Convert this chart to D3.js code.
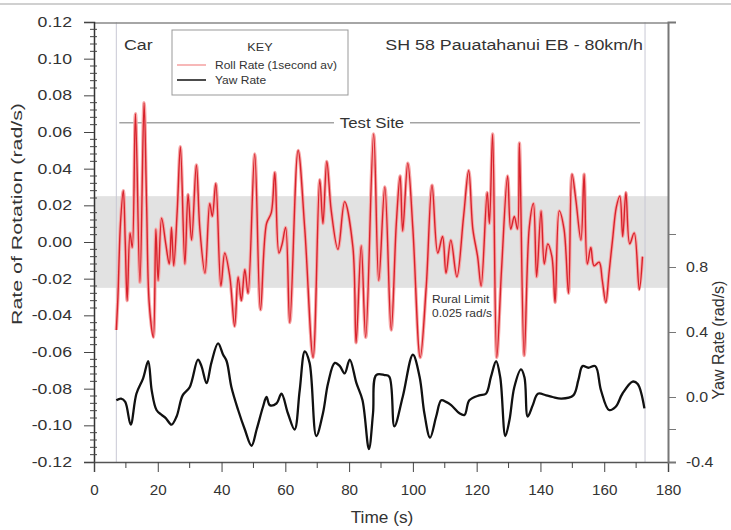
<!DOCTYPE html>
<html><head><meta charset="utf-8">
<script src="https://cdn.jsdelivr.net/npm/d3@7"></script>
<style>
html,body{margin:0;padding:0;background:#fff;}
svg text{font-family:"Liberation Sans",Arial,sans-serif;fill:#333;}
</style></head>
<body><svg id="c" width="731" height="530"></svg>
<script>
// ---- data ----
const rollT = [7.0,7.5,8.3,9.2,9.8,10.4,11.3,12.0,13.0,14.4,15.7,16.5,17.3,18.6,19.4,20.1,21.2,22.5,23.6,24.3,25.0,26.1,27.1,28.5,29.5,30.6,32.1,33.2,34.8,36.3,37.1,38.2,39.8,41.0,42.6,44.1,45.2,46.2,47.3,48.3,50.4,52.2,54.1,55.6,56.7,58.0,59.0,60.1,61.4,64.0,66.1,68.7,70.8,71.8,73.0,74.4,76.5,78.6,81.2,82.2,83.8,85.2,87.7,89.3,91.2,93.2,94.8,96.0,96.8,98.4,100.0,102.3,104.2,106.0,107.8,109.3,110.4,111.9,113.8,115.9,117.5,118.8,120.3,121.4,123.3,124.0,125.0,126.3,127.8,129.7,130.7,131.8,132.8,133.4,134.9,136.5,137.8,138.8,140.2,141.2,142.3,143.6,144.6,145.9,147.4,148.8,149.9,151.1,152.7,153.7,154.7,155.8,156.8,158.4,159.4,160.5,161.5,162.6,163.8,164.9,165.8,166.8,168.0,169.4,171.0,172.0];
const rollV = [-0.048,-0.030,0.010,0.028,0.000,-0.032,0.005,-0.003,0.070,-0.022,0.076,0.020,-0.033,-0.052,0.007,-0.021,0.013,-0.001,-0.012,0.008,-0.013,0.017,0.052,-0.012,0.026,0.001,0.042,0.007,-0.017,0.021,0.014,0.032,-0.024,-0.006,-0.019,-0.046,-0.019,-0.032,-0.015,-0.028,0.048,-0.037,0.010,0.016,0.038,-0.006,-0.001,0.008,-0.044,0.050,0.007,-0.063,0.034,0.010,0.044,0.017,-0.004,0.022,-0.003,-0.055,-0.002,-0.052,0.059,-0.021,0.030,-0.048,0.010,0.036,0.006,0.043,0.007,-0.063,-0.024,0.031,-0.006,0.003,-0.017,0.001,-0.019,0.014,0.039,0.007,-0.008,-0.024,0.027,0.010,0.059,-0.063,-0.015,0.036,0.007,0.014,0.007,0.054,-0.062,0.008,0.021,-0.019,0.017,-0.012,-0.001,-0.008,-0.033,0.017,0.007,-0.028,0.037,0.023,0.001,0.037,-0.012,-0.003,-0.013,-0.011,-0.021,-0.033,-0.017,0.001,0.019,0.025,0.003,0.027,-0.001,0.005,-0.026,-0.008];
const yawT = [7.0,8.5,9.8,11.5,13.3,15.4,17.0,18.1,19.6,21.2,22.5,24.3,25.9,27.8,30.0,32.6,33.7,35.3,36.8,38.9,40.5,41.6,43.1,45.2,47.3,49.4,51.0,53.0,54.1,55.1,57.2,58.8,60.8,62.9,64.5,66.1,67.6,69.7,71.8,73.4,75.5,77.1,78.6,80.2,82.3,84.2,86.2,87.5,88.5,91.1,92.6,94.2,96.8,100.0,102.1,103.6,105.4,107.3,108.9,110.4,112.0,114.6,116.2,117.7,120.8,122.9,124.5,126.1,127.4,129.0,130.3,131.8,133.9,135.0,136.0,137.6,139.2,141.8,143.8,146.6,150.3,151.9,153.2,155.0,157.2,159.0,161.5,163.6,165.7,168.9,170.5,172.6];
const yawV = [-0.02,-0.01,-0.03,-0.17,0.02,0.115,0.22,0.04,-0.08,-0.11,-0.13,-0.17,-0.12,0.01,0.06,0.23,0.19,0.085,0.21,0.33,0.26,0.22,0.06,-0.08,-0.20,-0.30,-0.20,-0.06,0.0,-0.05,-0.04,0.02,-0.10,-0.20,0.04,0.28,0.21,-0.24,-0.10,0.085,0.21,0.19,0.145,0.23,0.085,-0.02,-0.32,-0.10,0.135,0.135,0.125,-0.18,0.0,0.26,0.125,-0.10,-0.25,-0.12,-0.02,-0.03,-0.05,-0.10,-0.11,-0.02,0.01,0.02,0.125,0.22,0.12,-0.24,-0.14,0.06,0.17,0.12,-0.12,-0.05,0.02,0.01,0.0,-0.01,0.01,0.105,0.19,0.18,0.19,0.04,-0.08,-0.06,0.02,0.095,0.08,-0.07];
const leftTicks = [-0.12,-0.10,-0.08,-0.06,-0.04,-0.02,0.00,0.02,0.04,0.06,0.08,0.10,0.12];
const bottomTicks = [0,20,40,60,80,100,120,140,160,180];
const rightTicks = [-0.4,0.0,0.4,0.8];
const rightMinor = [-0.2,1.0];
const ruralLimit = 0.025;
const testSite = [7.0, 172.8];
const testSiteLevel = 0.065;
const legendItems = ["Roll Rate (1second av)","Yaw Rate"];
const titleText = "SH 58 Pauatahanui EB - 80km/h";

// ---- layout ----
const svg = d3.select("#c");
const L=94, R=668, T=22, B=462;
const SX = 1.2; // horizontal text stretch of the original image
const x = d3.scaleLinear().domain([0,180]).range([L,R]);
const y = d3.scaleLinear().domain([-0.12,0.12]).range([B,T]);
const y2 = d3.scaleLinear().domain([-0.4,-0.4+(B-T)/162.5]).range([B,T]);

function txt(px,py,s,size,anchor,sx){
  return svg.append("text").attr("transform",`translate(${px},${py}) scale(${sx||SX},1)`)
    .attr("text-anchor",anchor||"start").attr("font-size",size).text(s);
}
function stretchAxis(g,size,sx){
  g.selectAll(".tick text").each(function(){
    const t=d3.select(this);
    const tx=+t.attr("x")||0, ty=+t.attr("y")||0;
    t.attr("x",null).attr("y",null).attr("transform",`translate(${tx},${ty}) scale(${sx},1)`)
     .attr("font-size",size).style("fill","#333").attr("font-family","Liberation Sans, Arial, sans-serif");
  });
}

// page top rule
svg.append("line").attr("x1",0).attr("x2",731).attr("y1",4).attr("y2",4).attr("stroke","#d0d0d0").attr("stroke-width",2);

// rural band
svg.append("rect").attr("x",L).attr("width",R-L).attr("y",y(ruralLimit)).attr("height",y(-ruralLimit)-y(ruralLimit)).attr("fill","#e2e2e2");

// test site verticals
testSite.forEach(t=>svg.append("line").attr("x1",x(t)).attr("x2",x(t)).attr("y1",T).attr("y2",B).attr("stroke","#c8c8d4").attr("stroke-width",1));

// frame top
svg.append("line").attr("x1",L).attr("x2",R).attr("y1",T+1).attr("y2",T+1).attr("stroke","#888").attr("stroke-width",1.5);

// test site line
const tsY = y(testSiteLevel);
svg.append("line").attr("x1",x(testSite[0])+3).attr("x2",334).attr("y1",tsY).attr("y2",tsY).attr("stroke","#777");
svg.append("line").attr("x1",410).attr("x2",x(testSite[1])-5).attr("y1",tsY).attr("y2",tsY).attr("stroke","#777");
txt(372,tsY+5,"Test Site",14,"middle");

// lines
const rollLine = d3.line().x((d,i)=>x(rollT[i])).y((d,i)=>y(rollV[i])).curve(d3.curveCatmullRom.alpha(0.5));
const yawLine = d3.line().x((d,i)=>x(yawT[i])).y((d,i)=>y2(yawV[i])).curve(d3.curveCatmullRom.alpha(0.5));
svg.append("path").attr("d",rollLine(rollT)).attr("fill","none").attr("stroke","#f6a8a8").attr("stroke-width",3.4).attr("stroke-linejoin","round");
svg.append("path").attr("d",rollLine(rollT)).attr("fill","none").attr("stroke","#d8222c").attr("stroke-width",1.4).attr("stroke-linejoin","round");
svg.append("path").attr("d",yawLine(yawT)).attr("fill","none").attr("stroke","#111").attr("stroke-width",2.3).attr("stroke-linejoin","round");

// axes
const fmt2 = d => (Math.abs(d)<1e-9?0:d).toFixed(2);
const fmt1 = d => (Math.abs(d)<1e-9?0:d).toFixed(1);
const gL = svg.append("g").attr("transform",`translate(${L},0)`)
  .call(d3.axisLeft(y).tickValues(leftTicks).tickSize(10).tickPadding(12).tickFormat(fmt2));
const gB = svg.append("g").attr("transform",`translate(0,${B})`)
  .call(d3.axisBottom(x).tickValues(bottomTicks).tickSize(10).tickPadding(13).tickFormat(d3.format("d")));
const gR = svg.append("g").attr("transform",`translate(${R},0)`)
  .call(d3.axisRight(y2).tickValues(rightTicks).tickSize(8).tickPadding(10).tickFormat(fmt1));
stretchAxis(gL,14.5,1.22);
stretchAxis(gB,14.5,1.05);
stretchAxis(gR,14.5,1.1);
[gL,gB,gR].forEach(g=>g.selectAll("line").attr("stroke","#444"));
gL.select(".domain").attr("stroke","#333").attr("stroke-width",1.5);
gB.select(".domain").attr("stroke","#555").attr("stroke-width",1.5);
gR.select(".domain").attr("stroke","#777").attr("stroke-width",2);
gR.selectAll("line").attr("stroke","#777");

// minor ticks left
const minorL = d3.range(-120,121,4).filter(v=>v%20!==0).map(v=>v/1000);
svg.append("g").selectAll("line").data(minorL).join("line")
  .attr("x1",L-4).attr("x2",L+3).attr("y1",d=>y(d)).attr("y2",d=>y(d)).attr("stroke","#444");
// minor ticks bottom
const minorB = d3.range(10,180,20);
svg.append("g").selectAll("line").data(minorB).join("line")
  .attr("x1",d=>x(d)).attr("x2",d=>x(d)).attr("y1",B).attr("y2",B+6).attr("stroke","#444");
// minor right
svg.append("g").selectAll("line").data(rightMinor).join("line")
  .attr("x1",R).attr("x2",R+8).attr("y1",d=>y2(d)).attr("y2",d=>y2(d)).attr("stroke","#777");

// axis titles
svg.append("text").attr("transform","translate(22,214) rotate(-90)").attr("text-anchor","middle").attr("font-size",14.5)
  .attr("textLength",222).attr("lengthAdjust","spacingAndGlyphs").text("Rate of Rotation (rad/s)");
svg.append("text").attr("transform","translate(724,340) rotate(-90)").attr("text-anchor","middle").attr("font-size",16).text("Yaw Rate (rad/s)");
txt(382,523,"Time (s)",16,"middle",1.08);

// labels
txt(124,50,"Car",15.5,"start",1.15);
txt(643,50,titleText,15,"end",1.19);
txt(432,303,"Rural Limit",10,"start",1.2);
txt(432,317,ruralLimit.toFixed(3)+" rad/s",10,"start",1.2);

// legend
svg.append("rect").attr("x",172).attr("y",30).attr("width",176).attr("height",65).attr("fill","#fff").attr("stroke","#999");
txt(260,51,"KEY",11,"middle",1.15);
const legColors = ["#f4a0a0","#111"];
legendItems.forEach((s,i)=>{
  const yy = 65+i*15;
  svg.append("line").attr("x1",177).attr("x2",206).attr("y1",yy).attr("y2",yy).attr("stroke",legColors[i]).attr("stroke-width",1.5);
  txt(215,yy+3.5,s,10,"start",1.2);
});
</script></body></html>
